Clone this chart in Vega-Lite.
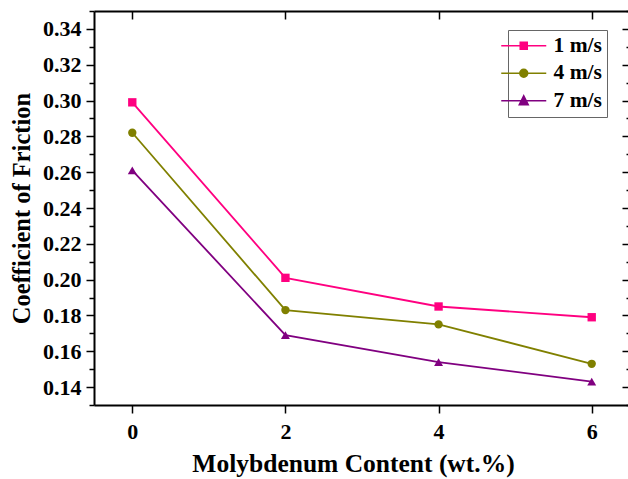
{
  "$schema": "https://vega.github.io/schema/vega-lite/v6.json",
  "width": 536,
  "height": 394,
  "autosize": {"type": "none"},
  "padding": {"left": 94, "top": 11, "right": 0, "bottom": 74},
  "background": "white",
  "config": {
    "view": {"stroke": null},
    "font": "Liberation Serif",
    "axis": {
      "domainColor": "black", "domainWidth": 2, "tickColor": "black", "tickWidth": 1.5,
      "labelFont": "Liberation Serif", "labelFontWeight": "bold", "labelFontSize": 22, "labelColor": "black",
      "titleFont": "Liberation Serif", "titleFontWeight": "bold", "titleFontSize": 24.5, "titleColor": "black",
      "grid": false
    }
  },
  "data": {"values": [
    {"mo": 0, "cof": 0.299, "series": "1 m/s"},
    {"mo": 2, "cof": 0.201, "series": "1 m/s"},
    {"mo": 4, "cof": 0.185, "series": "1 m/s"},
    {"mo": 6, "cof": 0.179, "series": "1 m/s"},
    {"mo": 0, "cof": 0.282, "series": "4 m/s"},
    {"mo": 2, "cof": 0.183, "series": "4 m/s"},
    {"mo": 4, "cof": 0.175, "series": "4 m/s"},
    {"mo": 6, "cof": 0.153, "series": "4 m/s"},
    {"mo": 0, "cof": 0.261, "series": "7 m/s"},
    {"mo": 2, "cof": 0.169, "series": "7 m/s"},
    {"mo": 4, "cof": 0.154, "series": "7 m/s"},
    {"mo": 6, "cof": 0.143, "series": "7 m/s"}
  ]},
  "layer": [
    {
      "mark": {"type": "line", "strokeWidth": 1.8},
      "encoding": {
        "x": {"field": "mo", "type": "quantitative", "scale": {"domain": [-0.5, 6.5], "nice": false},
          "axis": {"orient": "bottom", "values": [0, 2, 4, 6], "tickSize": 8, "labelPadding": 8, "labelFlush": false,
            "title": "Molybdenum Content (wt.%)", "titlePadding": 9, "titleX": 259, "titleFontSize": 25.5}},
        "y": {"field": "cof", "type": "quantitative", "scale": {"domain": [0.13, 0.35], "nice": false, "zero": false},
          "axis": {"orient": "left",
            "values": [0.13,0.14,0.15,0.16,0.17,0.18,0.19,0.2,0.21,0.22,0.23,0.24,0.25,0.26,0.27,0.28,0.29,0.3,0.31,0.32,0.33,0.34,0.35],
            "tickSize": {"condition": {"test": "round(datum.value*100) % 2 == 0", "value": 8}, "value": 5},
            "labelExpr": "round(datum.value*100) % 2 == 0 && datum.value > 0.135 && datum.value < 0.345 ? format(datum.value, '.2f') : ''",
            "labelPadding": 5, "labelFlush": false,
            "title": "Coefficient of Friction", "titlePadding": 8}},
        "color": {"field": "series", "type": "nominal",
          "scale": {"domain": ["1 m/s", "4 m/s", "7 m/s"], "range": ["#FF0080", "#808000", "#800080"]},
          "legend": {"title": null, "orient": "none", "legendX": 414, "legendY": 19,
            "strokeColor": "#666", "padding": 5, "symbolSize": 225, "symbolStrokeWidth": 1.5,
            "symbolType": "M-3,0H3",
            "labelFont": "Liberation Serif", "labelFontWeight": "bold", "labelFontSize": 21.5, "labelColor": "black",
            "labelOffset": 19, "rowPadding": 4.5,
            "encode": {"symbols": {"update": {
              "shape": {"signal": "datum.value === '1 m/s' ? 'M-3,0H3M-0.47,-0.47H0.47V0.47H-0.47Z' : datum.value === '4 m/s' ? 'M-3,0H3M0.53,0A0.53,0.53,0,1,1,-0.53,0A0.53,0.53,0,1,1,0.53,0Z' : 'M-3,0H3M0,-0.67L0.6,0.53H-0.6Z'"},
              "fill": {"scale": "color", "field": "value"},
              "stroke": {"scale": "color", "field": "value"},
              "opacity": {"value": 1}
            }}}}}
      }
    },
    {
      "transform": [{"filter": "datum.series === '1 m/s'"}],
      "mark": {"type": "point", "filled": true, "size": 70, "opacity": 1, "shape": "square"},
      "encoding": {
        "x": {"field": "mo", "type": "quantitative",
          "axis": {"orient": "top", "values": [0, 2, 4, 6], "tickSize": -8, "labels": false, "title": null}},
        "y": {"field": "cof", "type": "quantitative",
          "axis": {"orient": "right",
            "values": [0.13,0.14,0.15,0.16,0.17,0.18,0.19,0.2,0.21,0.22,0.23,0.24,0.25,0.26,0.27,0.28,0.29,0.3,0.31,0.32,0.33,0.34,0.35],
            "tickSize": {"condition": {"test": "round(datum.value*100) % 2 == 0", "value": -8}, "value": -4},
            "labels": false, "title": null}},
        "color": {"field": "series", "type": "nominal", "legend": null}
      }
    },
    {
      "transform": [{"filter": "datum.series === '4 m/s'"}],
      "mark": {"type": "point", "filled": true, "size": 70, "opacity": 1, "shape": "circle"},
      "encoding": {
        "x": {"field": "mo", "type": "quantitative", "axis": null},
        "y": {"field": "cof", "type": "quantitative", "axis": null},
        "color": {"field": "series", "type": "nominal", "legend": null}
      }
    },
    {
      "transform": [{"filter": "datum.series === '7 m/s'"}],
      "mark": {"type": "point", "filled": true, "size": 80, "opacity": 1, "shape": "triangle-up"},
      "encoding": {
        "x": {"field": "mo", "type": "quantitative", "axis": null},
        "y": {"field": "cof", "type": "quantitative", "axis": null},
        "color": {"field": "series", "type": "nominal", "legend": null}
      }
    }
  ],
  "resolve": {"axis": {"x": "independent", "y": "independent"}}
}
